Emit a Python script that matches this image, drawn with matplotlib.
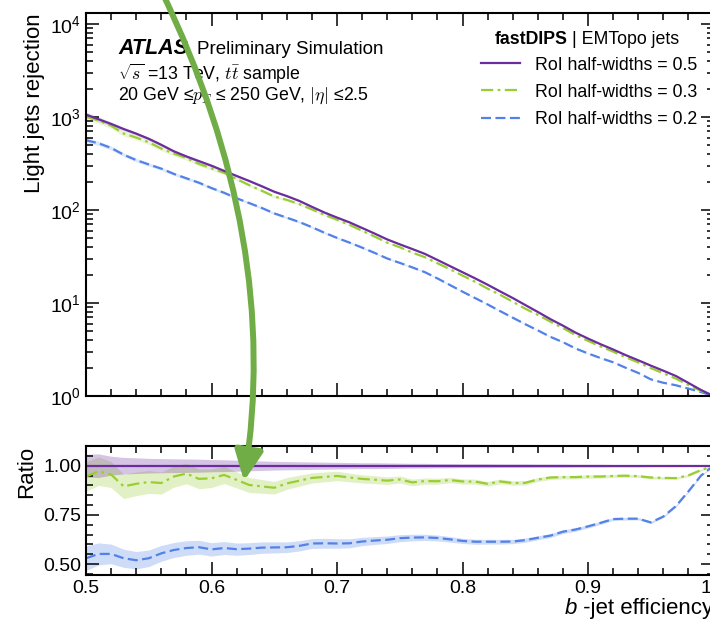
import numpy as np
import matplotlib
matplotlib.use("Agg")
import matplotlib.pyplot as plt
from matplotlib.patches import FancyArrowPatch
from matplotlib.path import Path
from matplotlib.ticker import MultipleLocator, LogLocator, NullFormatter, FormatStrFormatter

plt.rcParams["font.family"] = ["Liberation Sans", "DejaVu Sans"]
plt.rcParams["mathtext.fontset"] = "cm"

""" b-jet efficiency scan points (0.50 ... 1.00 in steps of 0.01)
"""
bEff = np.linspace(0.5, 1.0, 51)

""" Light jet rejection of the reference tagger (RoI half-width 0.5)
"""
rejRoi05 = [1060, 944, 841, 741, 661, 582, 501, 427, 376, 335,
            299, 263, 232, 205, 180, 157, 141, 125, 108, 93.8,
            82.8, 73.5, 64.0, 55.7, 48.2, 42.7, 38.0, 33.7, 29.0, 24.9,
            21.4, 18.4, 15.7, 13.3, 11.3, 9.5, 8.0, 6.7, 5.7, 4.8,
            4.14, 3.6, 3.16, 2.75, 2.42, 2.12, 1.87, 1.64, 1.38, 1.16,
            1.0]

""" Rejection ratio to the 0.5 half-width tagger
"""
ratioRoi03 = [0.945, 0.972, 0.955, 0.895, 0.908, 0.917, 0.912, 0.945, 0.960, 0.933,
              0.936, 0.953, 0.928, 0.902, 0.895, 0.888, 0.910, 0.924, 0.938, 0.943,
              0.948, 0.940, 0.933, 0.929, 0.924, 0.930, 0.915, 0.922, 0.921, 0.927,
              0.920, 0.919, 0.908, 0.920, 0.912, 0.913, 0.930, 0.940, 0.942, 0.942,
              0.945, 0.945, 0.948, 0.949, 0.947, 0.940, 0.938, 0.937, 0.951, 0.978,
              1.000]
ratioRoi02 = [0.530, 0.552, 0.552, 0.530, 0.520, 0.530, 0.555, 0.572, 0.582, 0.586,
              0.575, 0.582, 0.576, 0.579, 0.584, 0.585, 0.586, 0.593, 0.605, 0.606,
              0.605, 0.606, 0.615, 0.620, 0.624, 0.632, 0.635, 0.636, 0.633, 0.626,
              0.618, 0.614, 0.614, 0.614, 0.615, 0.622, 0.634, 0.645, 0.665, 0.676,
              0.692, 0.710, 0.729, 0.731, 0.731, 0.712, 0.742, 0.795, 0.870, 0.950,
              1.000]

""" Statistical uncertainty (half-width of band) on each ratio
"""
errRoi05 = [0.058, 0.060, 0.048, 0.042, 0.040, 0.037, 0.036, 0.035, 0.034, 0.033,
            0.031, 0.030, 0.028, 0.026, 0.024, 0.022, 0.021, 0.020, 0.019, 0.018,
            0.017, 0.016, 0.015, 0.015, 0.014, 0.013, 0.012, 0.012, 0.011, 0.011,
            0.010, 0.010, 0.010, 0.009, 0.009, 0.009, 0.008, 0.008, 0.008, 0.007,
            0.007, 0.007, 0.006, 0.006, 0.006, 0.005, 0.005, 0.005, 0.004, 0.004,
            0.003]
errRoi03 = [0.075, 0.072, 0.066, 0.062, 0.060, 0.058, 0.056, 0.054, 0.052, 0.050,
            0.047, 0.044, 0.041, 0.038, 0.035, 0.032, 0.030, 0.028, 0.026, 0.025,
            0.024, 0.022, 0.021, 0.020, 0.019, 0.018, 0.017, 0.016, 0.015, 0.014,
            0.013, 0.013, 0.012, 0.012, 0.011, 0.011, 0.010, 0.010, 0.009, 0.009,
            0.009, 0.008, 0.008, 0.008, 0.007, 0.007, 0.007, 0.006, 0.006, 0.005,
            0.004]
errRoi02 = [0.062, 0.056, 0.050, 0.046, 0.044, 0.042, 0.040, 0.038, 0.037, 0.035,
            0.034, 0.033, 0.031, 0.030, 0.029, 0.028, 0.027, 0.026, 0.025, 0.025,
            0.024, 0.023, 0.021, 0.020, 0.019, 0.018, 0.017, 0.016, 0.015, 0.014,
            0.013, 0.013, 0.012, 0.012, 0.011, 0.011, 0.010, 0.010, 0.009, 0.009,
            0.008, 0.008, 0.007, 0.007, 0.006, 0.006, 0.005, 0.005, 0.004, 0.004,
            0.003]

labels = ["RoI half-widths = 0.5", "RoI half-widths = 0.3", "RoI half-widths = 0.2"]
colours = ["#6b2d9e", "#9acd32", "#5282e8"]

rej05 = np.array(rejRoi05)
ratios = [np.ones_like(rej05), np.array(ratioRoi03), np.array(ratioRoi02)]
errors = [np.array(errRoi05), np.array(errRoi03), np.array(errRoi02)]
styles = [dict(linestyle="-"),
          dict(dashes=(5.5, 2.0, 1.2, 2.0)),
          dict(dashes=(4.5, 2.0))]

fig = plt.figure(figsize=(7.1, 6.2), dpi=100)
axMain = fig.add_axes([86 / 710, 1 - 396 / 620, 627.6 / 710, 383 / 620])
axRatio = fig.add_axes([86 / 710, 1 - 575 / 620, 627.6 / 710, 129 / 620],
                       sharex=axMain)

""" Draw the ratio entries back to front so the reference sits on top
"""
handles = [None, None, None]
for idx in [2, 1, 0]:
    rej = rej05 * ratios[idx]
    axMain.fill_between(bEff, rej * (1 - errors[idx]), rej * (1 + errors[idx]),
                        color=colours[idx], alpha=0.18, linewidth=0)
    line, = axMain.plot(bEff, rej, color=colours[idx], linewidth=1.6,
                        **styles[idx])
    handles[idx] = line
    axRatio.fill_between(bEff, ratios[idx] - errors[idx],
                         ratios[idx] + errors[idx],
                         color=colours[idx], alpha=0.28, linewidth=0)
    axRatio.plot(bEff, ratios[idx], color=colours[idx], linewidth=1.6,
                 **styles[idx])

axMain.set_yscale("log")
axMain.set_ylim(1, 1.31e4)
axMain.set_xlim(0.5, 1.0)
axMain.yaxis.set_major_locator(LogLocator(base=10, numticks=10))
axMain.yaxis.set_minor_locator(LogLocator(base=10, subs=range(2, 10), numticks=20))
axMain.yaxis.set_minor_formatter(NullFormatter())
axMain.tick_params(labelbottom=False)

axRatio.set_ylim(0.445, 1.10)
axRatio.yaxis.set_major_locator(MultipleLocator(0.25))
axRatio.yaxis.set_minor_locator(MultipleLocator(0.05))
axRatio.yaxis.set_major_formatter(FormatStrFormatter("%.2f"))
axRatio.xaxis.set_major_locator(MultipleLocator(0.1))
axRatio.xaxis.set_minor_locator(MultipleLocator(0.02))

for ax in (axMain, axRatio):
    ax.tick_params(which="both", direction="in", top=True, right=True,
                   labelsize=14, width=1.1)
    ax.tick_params(which="major", length=9.5)
    ax.tick_params(which="minor", length=5)
    for spine in ax.spines.values():
        spine.set_linewidth(1.5)

axMain.set_ylabel("Light jets rejection", loc="top", fontsize=16)
axRatio.set_ylabel("Ratio", loc="top", fontsize=16)

""" x label: italic "b" placed just left of the rest of the label
"""
axRatio.set_xlabel(" -jet efficiency", loc="right", fontsize=16, labelpad=0.5)
axRatio.annotate("b", xy=(0, 0), xycoords=axRatio.xaxis.label, ha="right",
                 va="bottom", fontsize=16, fontstyle="italic")

""" Experiment label and sample description
"""
axMain.text(0.051, 0.893, "ATLAS", transform=axMain.transAxes, fontsize=15.5,
            fontweight="bold", fontstyle="italic", va="baseline")
axMain.text(0.177, 0.893, "Preliminary Simulation", transform=axMain.transAxes,
            fontsize=13.5, va="baseline")
axMain.text(0.051, 0.825, r"$\sqrt{s}$ =13 TeV, $t\bar{t}$ sample",
            transform=axMain.transAxes, fontsize=12.8, va="baseline")
axMain.text(0.051, 0.773,
            "20 GeV \u2264$p_{T}$ \u2264 250 GeV, $|\\eta|$ \u22642.5",
            transform=axMain.transAxes, fontsize=12.8, va="baseline")

""" Legend with a two-part title
"""
axMain.text(0.768, 0.919, "fastDIPS", transform=axMain.transAxes, fontsize=12.8,
            fontweight="bold", ha="right", va="baseline")
axMain.text(0.774, 0.919, "| EMTopo jets", transform=axMain.transAxes,
            fontsize=12.8, ha="left", va="baseline")
axMain.legend(handles, labels, loc="upper right", bbox_to_anchor=(1.0, 0.928),
              frameon=False, fontsize=12.8, handlelength=2.2, labelspacing=0.57,
              handletextpad=0.84)

""" Curved call-out arrow
"""
pts = [(161, -10), (282, 240), (244, 481)]
verts = [(x / 710, 1 - y / 620) for x, y in pts]
arrowPath = Path(verts, [Path.MOVETO, Path.CURVE3, Path.CURVE3])
arrow = FancyArrowPatch(path=arrowPath, transform=fig.transFigure,
                        arrowstyle="-|>,head_length=18,head_width=8.5",
                        mutation_scale=1, color="#70ad47", linewidth=4.3,
                        zorder=10)
fig.patches.append(arrow)

fig.savefig("out.png", dpi=100)
